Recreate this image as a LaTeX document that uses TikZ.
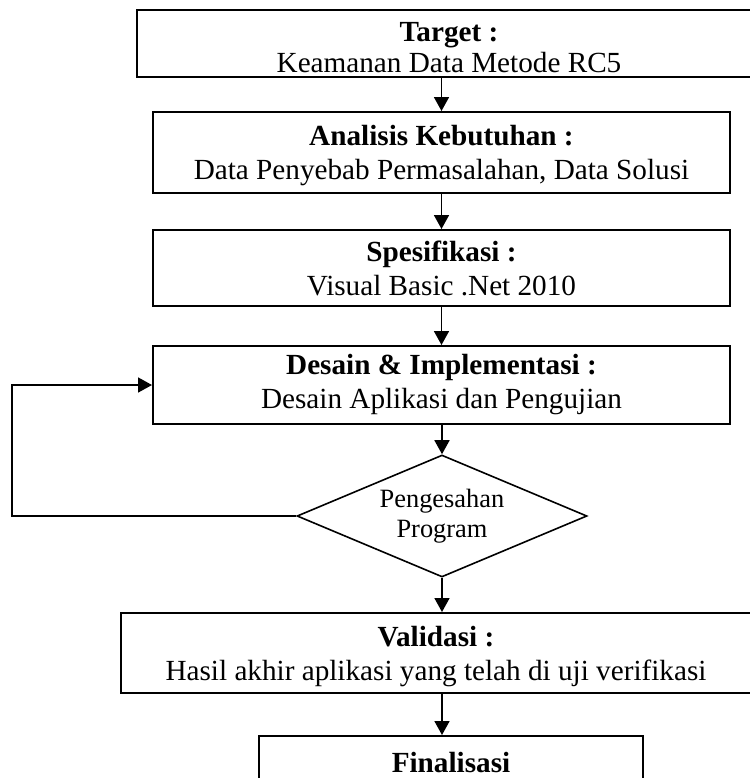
\documentclass[tikz,border=0pt]{standalone}
\usepackage{fontspec}
\setmainfont{Liberation Serif}
\usetikzlibrary{arrows.meta}
\usetikzlibrary{shapes.geometric}

\tikzset{
  stepbox/.style={draw, line width=1pt, inner sep=0pt, align=center,
    font=\fontsize{14.6}{17}\selectfont},
  checkbox/.style={draw, diamond, aspect=2.377, line width=0.8pt, inner sep=0pt, align=center,
    font=\fontsize{13.2}{15}\selectfont},
  flow/.style={->, line width=0.85pt},
}

\begin{document}
\begin{tikzpicture}[x=0.5pt,y=-0.5pt,line join=miter,>={Triangle[length=7pt,width=7.5pt]}]
      \useasboundingbox (0,0) rectangle (750,778);
      \clip (0,0) rectangle (750,778);
      \node[stepbox, minimum width=312pt, minimum height=33.5pt,
        font=\fontsize{14.6}{15.5}\selectfont] (target) at (449,43.5)
        {\rule{0pt}{13.5pt}\textbf{Target :}\\ Keamanan Data Metode RC5};
      \node[stepbox, minimum width=288.5pt, minimum height=40.5pt, text depth=0pt] (analisis) at (441.5,152.5)
        {\textbf{Analisis Kebutuhan :}\\ Data Penyebab Permasalahan, Data Solusi};
      \node[stepbox, minimum width=288.5pt, minimum height=38pt] (spesifikasi) at (441.5,268)
        {\textbf{Spesifikasi :}\\ Visual Basic .Net 2010};
      \node[stepbox, minimum width=288.5pt, minimum height=39pt] (desain) at (441.5,385)
        {\textbf{Desain \& Implementasi :}\\ Desain Aplikasi dan Pengujian};
      \node[checkbox, minimum width=145pt, minimum height=61pt] (cek) at (442,516)
        {Pengesahan\\ Program};
      \node[stepbox, minimum width=315pt, minimum height=40pt, text depth=0pt] (validasi) at (436,653)
        {\textbf{Validasi :}\\ Hasil akhir aplikasi yang telah di uji verifikasi};
      \node[stepbox, minimum width=192pt, inner ysep=8pt, anchor=north] (final) at (451,735)
        {\textbf{Finalisasi}\\ \strut};
      \coordinate (kiri) at (12,516);
      % alur utama
      \draw[flow] (target.south -| analisis.north) -- (analisis.north);
      \draw[flow] (analisis.south) -- (spesifikasi.north);
      \draw[flow] (spesifikasi.south) -- (desain.north);
      \draw[flow] (desain.south -| cek.north) -- (cek.north);
      \draw[flow] (cek.south) -- (cek.south |- validasi.north);
      \draw[flow] (validasi.south -| cek.south) -- (cek.south |- final.north);
      % kembali ke desain
      \draw[flow] (cek.west) -- (kiri) |- (desain.west);
\end{tikzpicture}
\end{document}
